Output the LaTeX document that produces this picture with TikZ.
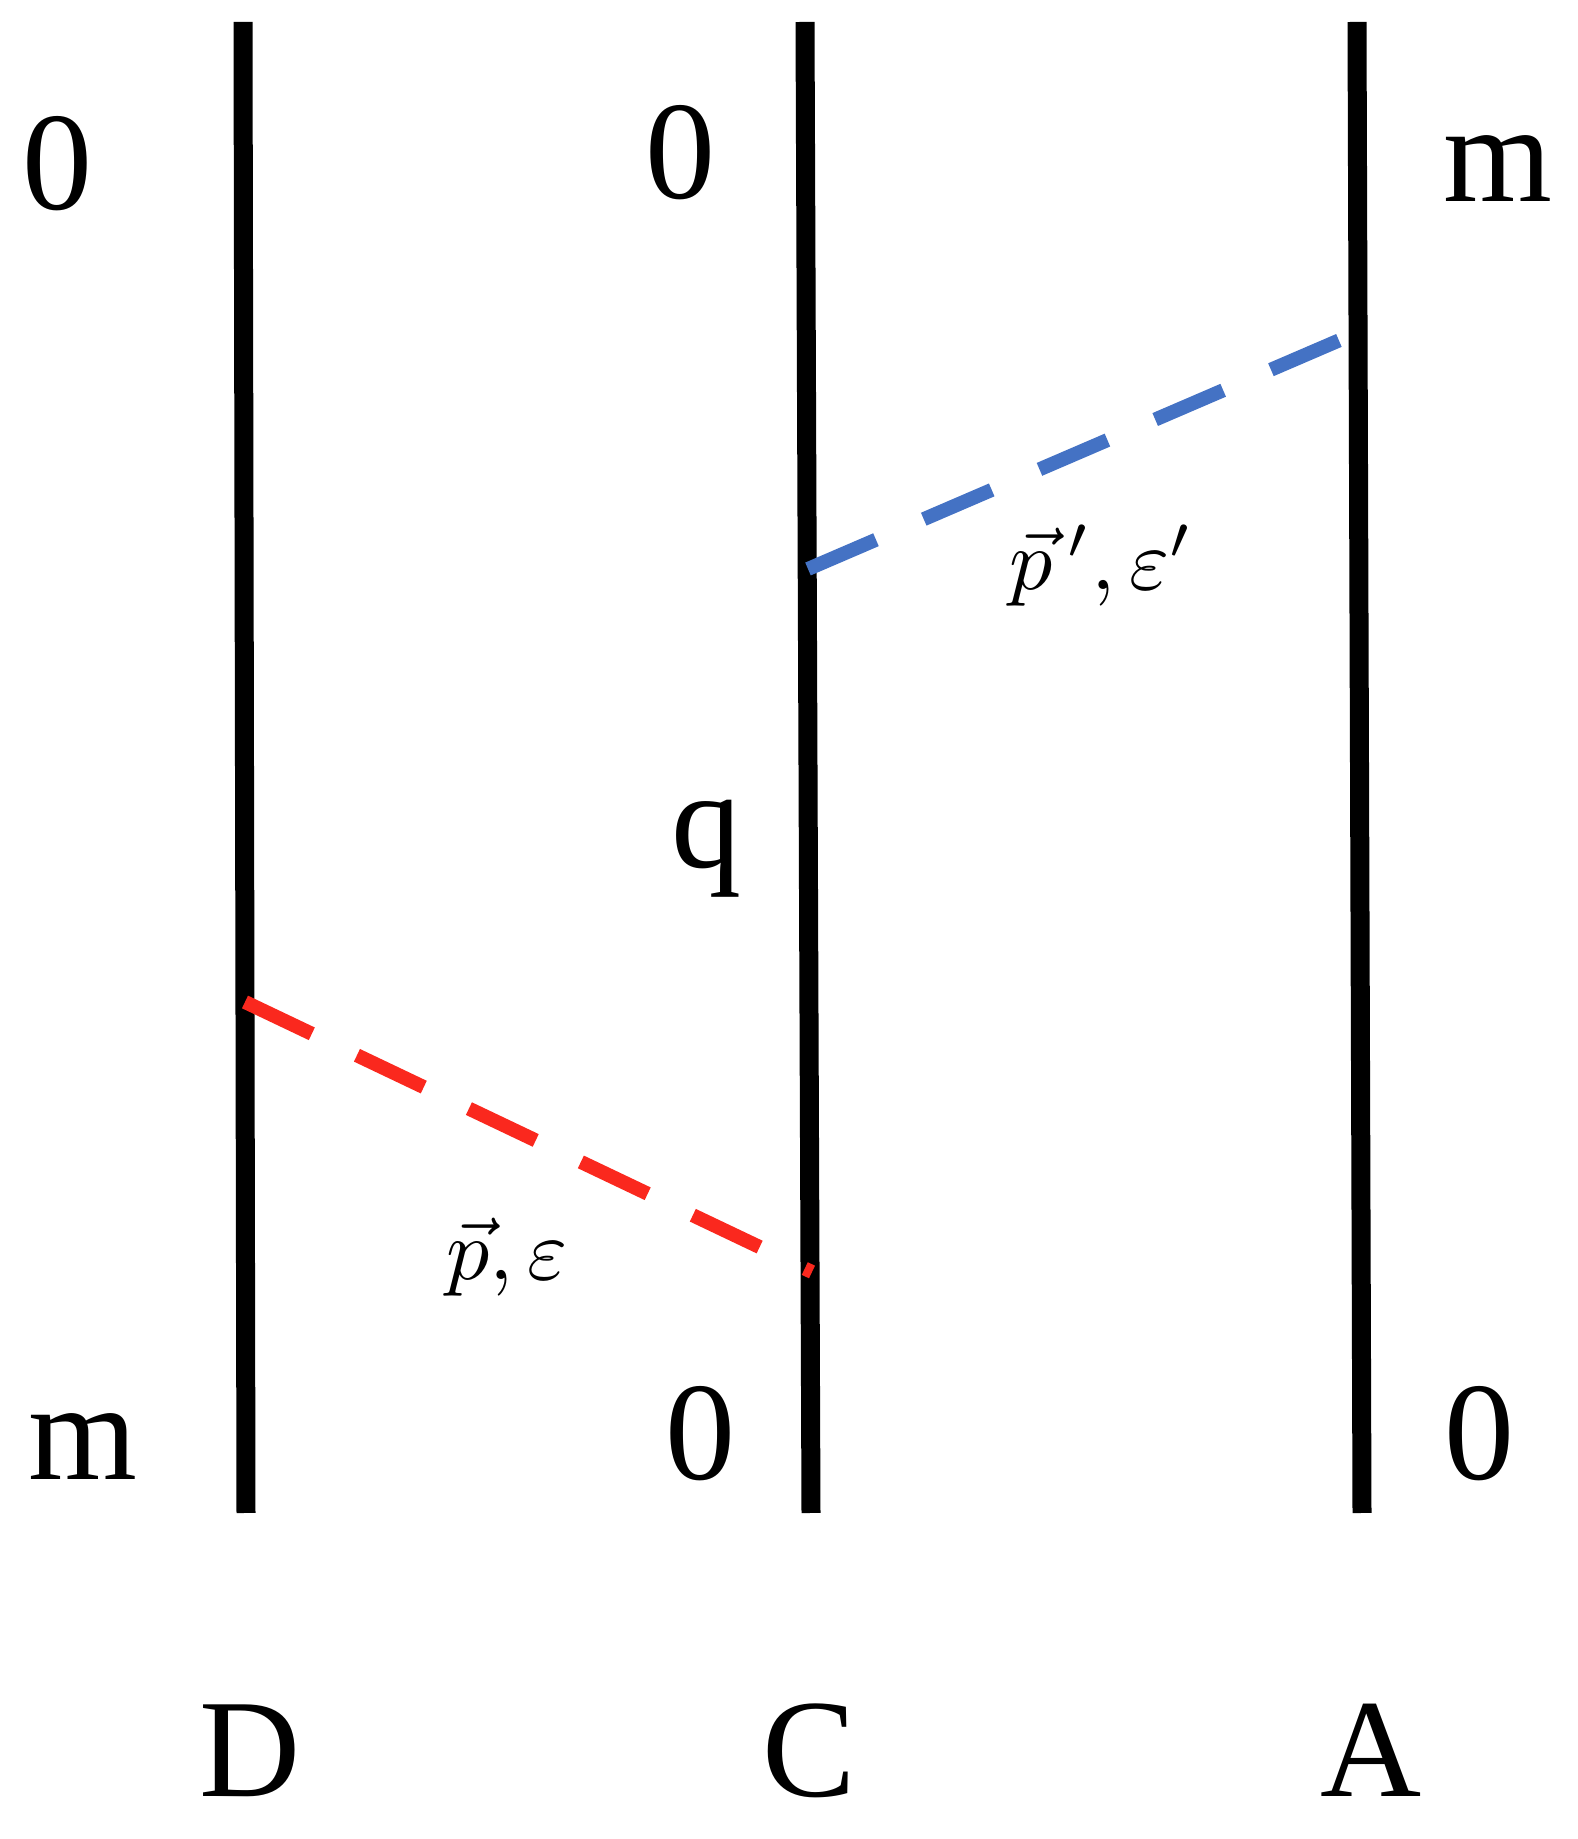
\documentclass[tikz,border=0pt]{standalone}
\usepackage{fontspec}
\setmainfont{Liberation Serif}
\definecolor{lineblue}{RGB}{68,114,196}
\definecolor{linered}{RGB}{250,40,30}
\tikzset{
  worldline/.style={line width=19pt, black},
  exch/.style={line width=14pt, dash pattern=on 74pt off 52pt},
  exchred/.style={line width=14pt, dash pattern=on 74pt off 50pt},
  biglabel/.style={anchor=base, inner sep=0pt, font=\fontsize{140}{150}\selectfont},
  mathlabel/.style={anchor=base, inner sep=0pt, scale=8.6}
}
\begin{document}
\begin{tikzpicture}[x=1pt,y=1pt]
\useasboundingbox (0,0) rectangle (1577,1839);
% world lines
\coordinate (Dt) at (243,1817); \coordinate (Db) at (246,326);
\coordinate (Ct) at (805,1817); \coordinate (Cb) at (811,326);
\coordinate (At) at (1357,1817); \coordinate (Ab) at (1362,326);
\draw[worldline] (Dt) -- (Db);
\draw[worldline] (Ct) -- (Cb);
\draw[worldline] (At) -- (Ab);
% exchange lines
\coordinate (c1) at (808,1270);
\coordinate (a1) at (1340,1499);
\coordinate (d1) at (245,837);
\coordinate (c2) at (812,567);
\draw[exch, lineblue] (c1) -- (a1);
\draw[exchred, linered] (d1) -- (c2);
% labels
\node[biglabel] (l0a) at (58,1629) {0};
\node[biglabel] (l0b) at (680,1640) {0};
\node[biglabel] (lma) at (1498,1637) {m};
\node[biglabel] (lq) at (706,971) {q};
\node[biglabel] (lmb) at (83,359) {m};
\node[biglabel] (l0c) at (700,359) {0};
\node[biglabel] (l0d) at (1479,359) {0};
\node[biglabel] (lD) at (250,42) {D};
\node[biglabel] (lC) at (809,42) {C};
\node[biglabel] (lA) at (1371,42) {A};
\node[mathlabel] (lpp) at (1102,1249) {$\vec{p}\,',\varepsilon'$};
\node[mathlabel] (lp) at (507,559) {$\vec{p},\varepsilon$};
\end{tikzpicture}
\end{document}
